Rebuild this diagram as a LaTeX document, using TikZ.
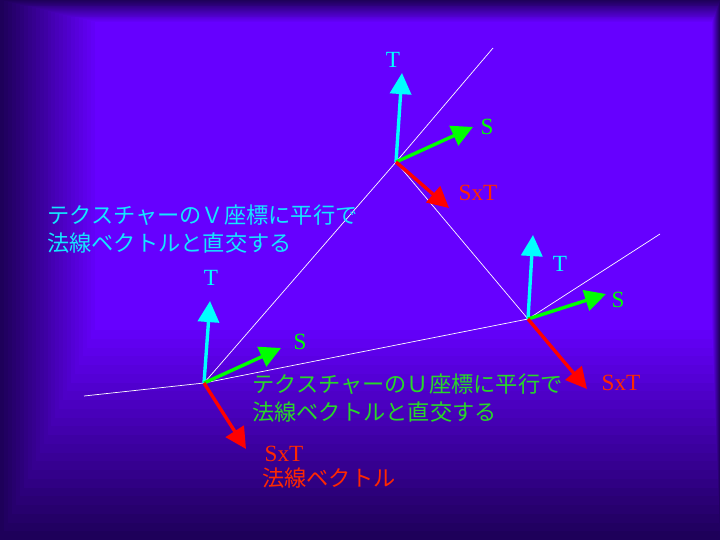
\documentclass[tikz,border=0pt]{standalone}
\usepackage{fontspec}
\setmainfont{Liberation Serif}
\newfontfamily\jpfont{Noto Sans CJK JP}
\usetikzlibrary{arrows.meta}

\definecolor{bgdark}{RGB}{30,0,90}
\definecolor{bglight}{RGB}{102,0,255}
\definecolor{vecT}{RGB}{0,255,255}
\definecolor{vecS}{RGB}{0,255,0}
\definecolor{vecN}{RGB}{255,0,0}
\definecolor{txtV}{RGB}{20,230,255}
\definecolor{txtU}{RGB}{40,215,40}
\definecolor{txtN}{RGB}{255,40,0}

\tikzset{
  vec/.style={line width=2.4pt, -{Triangle[length=15pt,width=15pt]}},
  mesh/.style={white, line width=0.5pt},
  axislabel/.style={font=\fontsize{16.5}{19}\selectfont, inner sep=0pt},
  note/.style={font=\jpfont\fontsize{15.8}{19.8}\selectfont, align=left, anchor=north west, inner sep=0pt},
}

\begin{document}
\begin{tikzpicture}[x=0.025cm, y=-0.025cm]
    % Background
    \fill[bgdark] (0,0) rectangle (720,540);
    \foreach \i in {1,...,24} {
        \pgfmathtruncatemacro\p{100*\i/24}
        \fill[bglight!\p!bgdark] ({95*\i/24},{22*\i/24}) rectangle ({720-8*\i/24},{540-210*\i/24});
    }
    % Define points
    \coordinate (A) at (204,383);
    \coordinate (B) at (396,162);
    \coordinate (C) at (528,319);
    \coordinate (eA) at (84,396);
    \coordinate (eB) at (493,48);
    \coordinate (eC) at (660,234);
    \coordinate (A-T) at (210,301);
    \coordinate (A-S) at (281,348);
    \coordinate (A-N) at (246,449);
    \coordinate (B-T) at (402,73);
    \coordinate (B-S) at (473,127);
    \coordinate (B-N) at (449,208);
    \coordinate (C-T) at (533,235);
    \coordinate (C-S) at (606,294);
    \coordinate (C-N) at (587,389);
    % Draw mesh
    \draw[mesh] (eA) -- (A) -- (C) -- (eC);
    \draw[mesh] (A) -- (B) -- (eB);
    \draw[mesh] (B) -- (C);
    % Draw vectors
    \draw[vec, vecT] (A) -- (A-T);
    \draw[vec, vecS] (A) -- (A-S);
    \draw[vec, vecN] (A) -- (A-N);
    \draw[vec, vecT] (B) -- (B-T);
    \draw[vec, vecS] (B) -- (B-S);
    \draw[vec, vecN] (B) -- (B-N);
    \draw[vec, vecT] (C) -- (C-T);
    \draw[vec, vecS] (C) -- (C-S);
    \draw[vec, vecN] (C) -- (C-N);
    % Labels
    \node[axislabel, text=vecT] (lA-T) at (211,278) {T};
    \node[axislabel, text=vecS] (lA-S) at (300,342) {S};
    \node[axislabel, text=txtN] (lA-N) at (284,454) {SxT};
    \node[axislabel, text=vecT] (lB-T) at (393,60) {T};
    \node[axislabel, text=vecS] (lB-S) at (487,127) {S};
    \node[axislabel, text=txtN] (lB-N) at (478,193) {SxT};
    \node[axislabel, text=vecT] (lC-T) at (560,264) {T};
    \node[axislabel, text=vecS] (lC-S) at (618,300) {S};
    \node[axislabel, text=txtN] (lC-N) at (621,383) {SxT};
    \node[note, text=txtN] (normal) at (262,468) {法線ベクトル};
    \node[note, text=txtV] (vnote) at (47,205) {テクスチャーのＶ座標に平行で\\法線ベクトルと直交する};
    \node[note, text=txtU] (unote) at (252,374) {テクスチャーのＵ座標に平行で\\法線ベクトルと直交する};
\end{tikzpicture}
\end{document}
